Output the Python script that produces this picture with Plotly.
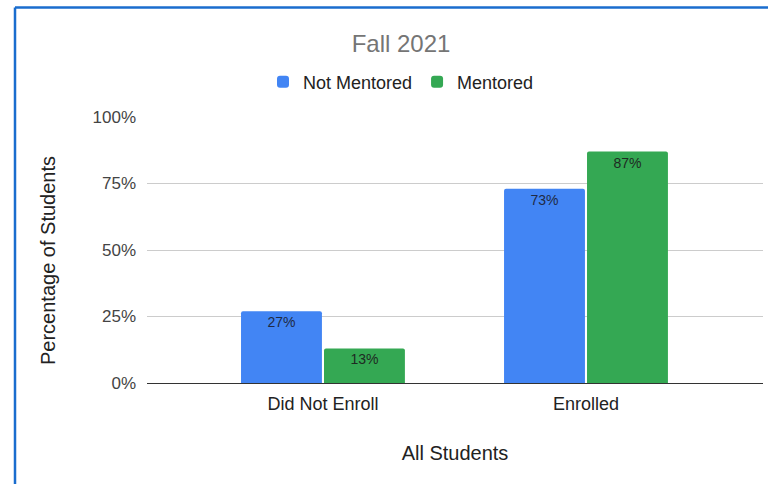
import plotly.graph_objects as go

categories = ["Did Not Enroll", "Enrolled"]
not_mentored = [0.27, 0.73]
mentored = [0.13, 0.87]
not_mentored_labels = ["27%", "73%"]
mentored_labels = ["13%", "87%"]

L, R, T, B = 147, 5, 117, 101
W, H = 768, 484
pw, ph = W - L - R, H - T - B
FONT = "Liberation Sans, Arial, sans-serif"

def px(x):
    return (x - L) / pw

def py(y):
    return (H - B - y) / ph

fig = go.Figure()
fig.add_trace(go.Bar(
    x=categories, y=not_mentored, name="Not Mentored",
    marker=dict(color="#4285f4", line=dict(width=0)),
    text=not_mentored_labels, textposition="inside", insidetextanchor="end",
    constraintext="none",
    textfont=dict(color="#1f2a44", size=14, family=FONT),
    hoverinfo="skip",
))
fig.add_trace(go.Bar(
    x=categories, y=mentored, name="Mentored",
    marker=dict(color="#34a853", line=dict(width=0)),
    text=mentored_labels, textposition="inside", insidetextanchor="end",
    constraintext="none",
    textfont=dict(color="#1e2a22", size=14, family=FONT),
    hoverinfo="skip",
))

fig.update_layout(
    width=W, height=H,
    margin=dict(l=L, r=R, t=T, b=B, autoexpand=False),
    paper_bgcolor="white", plot_bgcolor="white",
    font=dict(family=FONT, color="#222222"),
    barmode="group", bargap=0.369, bargroupgap=0.025, barcornerradius=2,
    title=dict(text="Fall 2021", x=px(401), xref="paper", xanchor="center",
               y=1 - 44 / H, yanchor="middle",
               font=dict(size=24, color="#757575")),
    legend=dict(orientation="h", x=px(401), xanchor="center", y=py(82), yanchor="middle",
                font=dict(size=18, color="#222222"), itemwidth=30,
                traceorder="normal", bgcolor="rgba(0,0,0,0)"),
    xaxis=dict(range=[-0.669, 1.673], showgrid=False, showline=False, ticks="",
               tickfont=dict(size=18, color="#222222"), ticklabelstandoff=8,
               title=dict(text="All Students", font=dict(size=20, color="#222222"), standoff=32),
               fixedrange=True),
    yaxis=dict(range=[0, 1], tickvals=[0, 0.25, 0.5, 0.75, 1.0], tickformat=".0%",
               gridcolor="#cccccc", gridwidth=1, zeroline=True, zerolinecolor="#333333",
               zerolinewidth=1, showline=False, ticks="", ticklabelstandoff=10,
               tickfont=dict(size=17, color="#444444"),
               fixedrange=True),
    showlegend=True,
)

# y axis title placed as rotated annotation (centered slightly below plot center, as in reference)
fig.add_annotation(text="Percentage of Students", xref="paper", yref="paper",
                   x=px(48), y=py(260), xanchor="center", yanchor="middle",
                   textangle=-90, showarrow=False,
                   font=dict(size=20, color="#222222", family=FONT))

# frame border (blue) along left and top of the page
fig.add_shape(type="line", xref="paper", yref="paper",
              x0=px(15), x1=px(15), y0=py(7.5), y1=py(500),
              line=dict(color="#1a6dce", width=2.5), layer="above")
fig.add_shape(type="line", xref="paper", yref="paper",
              x0=px(15), x1=px(800), y0=py(7.5), y1=py(7.5),
              line=dict(color="#1a6dce", width=2.5), layer="above")

fig.write_html("out.html")
